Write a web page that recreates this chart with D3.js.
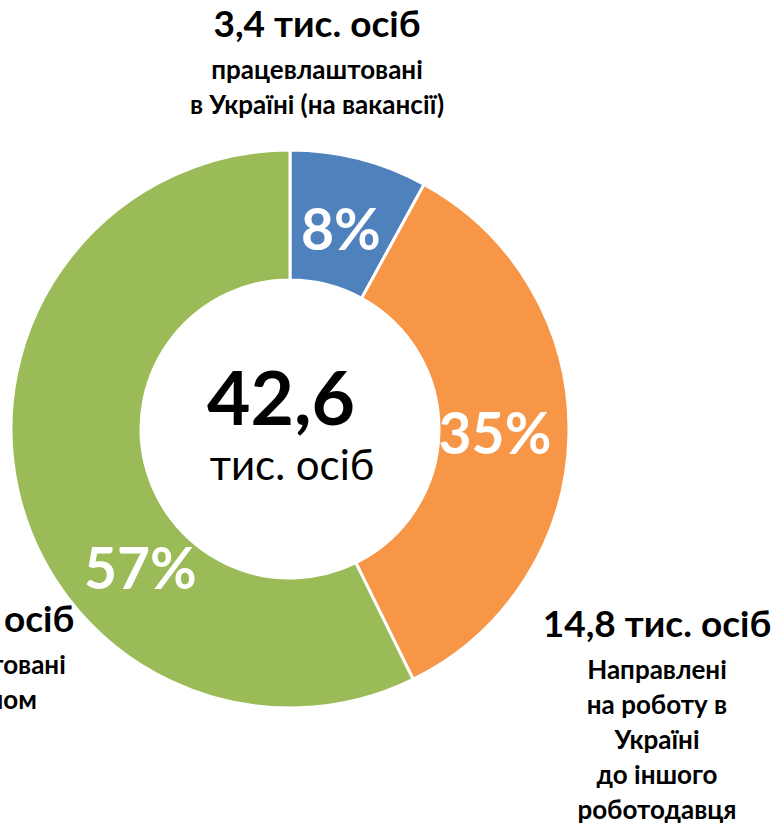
<!DOCTYPE html>
<html>
<head>
<meta charset="utf-8">
<script src="https://cdn.jsdelivr.net/npm/d3@7"></script>
<style>
  body { margin: 0; background: #fff; }
  svg { display: block; font-family: Lato, "Open Sans", sans-serif; }
</style>
</head>
<body>
<svg id="display"></svg>
<script>
// data
const categories = ['працевлаштовані в Україні (на вакансії)', 'Направлені на роботу в Україні до іншого роботодавця', 'працевлаштовані за кордоном']
const values = [3.4, 14.8, 24.4]
const percents = ['8%', '35%', '57%']
const colors = ['#4F81BD', '#F79646', '#9BBB59']
const totalLabel = '42,6'
const totalUnit = 'тис. осіб'
const headLabels = ['3,4 тис. осіб', '14,8 тис. осіб', '24,4 тис. осіб']
const subLabels = [
  ['працевлаштовані', 'в Україні (на вакансії)'],
  ['Направлені', 'на роботу в', 'Україні', 'до іншого', 'роботодавця'],
  ['працевлаштовані', 'за кордоном']
]

let svg = d3.select('#display')
width = 772
height = 827
svg.attr('width', width).attr('height', height)

cx = 290
cy = 429
outerR = 279
innerR = 149

let pie = d3.pie().sort(null).value(d => d)
let arc = d3.arc().innerRadius(innerR).outerRadius(outerR)

let g = svg.append('g').attr('transform', 'translate(' + cx + ',' + cy + ')')
let arcs = pie(values)

g.selectAll('path')
  .data(arcs)
  .enter()
  .append('path')
  .attr('d', arc)
  .attr('fill', (d, i) => colors[i])
  .attr('stroke', '#fff')
  .attr('stroke-width', 3)

// percent labels inside the ring (the green one was dragged up in the original)
let labelR = 205
let angleShift = [0, 0, -30 * Math.PI / 180]
g.selectAll('text.pct')
  .data(arcs)
  .enter()
  .append('text')
  .attr('class', 'pct')
  .attr('transform', (d, i) => {
    let a = (d.startAngle + d.endAngle) / 2 + angleShift[i]
    let x = Math.sin(a) * labelR
    let y = -Math.cos(a) * labelR
    return 'translate(' + x + ',' + (y + 20) + ')'
  })
  .attr('text-anchor', 'middle')
  .attr('fill', '#fff')
  .attr('font-weight', 'bold')
  .attr('font-size', 57)
  .text((d, i) => percents[i])

// center
g.append('text')
  .attr('text-anchor', 'middle')
  .attr('x', -9)
  .attr('y', -4)
  .attr('font-weight', 'bold')
  .attr('font-size', 75)
  .text(totalLabel)
g.append('text')
  .attr('text-anchor', 'middle')
  .attr('x', 2)
  .attr('y', 51)
  .attr('font-size', 42)
  .text(totalUnit)

// outside labels
let labelPos = [
  { x: 317, y: 37 },
  { x: 657, y: 637 },
  { x: -40, y: 632 }
]

labelPos.forEach((p, i) => {
  let t = svg.append('text')
    .attr('text-anchor', 'middle')
    .attr('font-weight', 'bold')
  t.append('tspan')
    .attr('x', p.x)
    .attr('y', p.y)
    .attr('font-size', 37)
    .text(headLabels[i])
  subLabels[i].forEach((s, j) => {
    t.append('tspan')
      .attr('x', p.x)
      .attr('y', p.y + 42 + j * 35)
      .attr('font-size', 26)
      .text(s)
  })
})
</script>
</body>
</html>
